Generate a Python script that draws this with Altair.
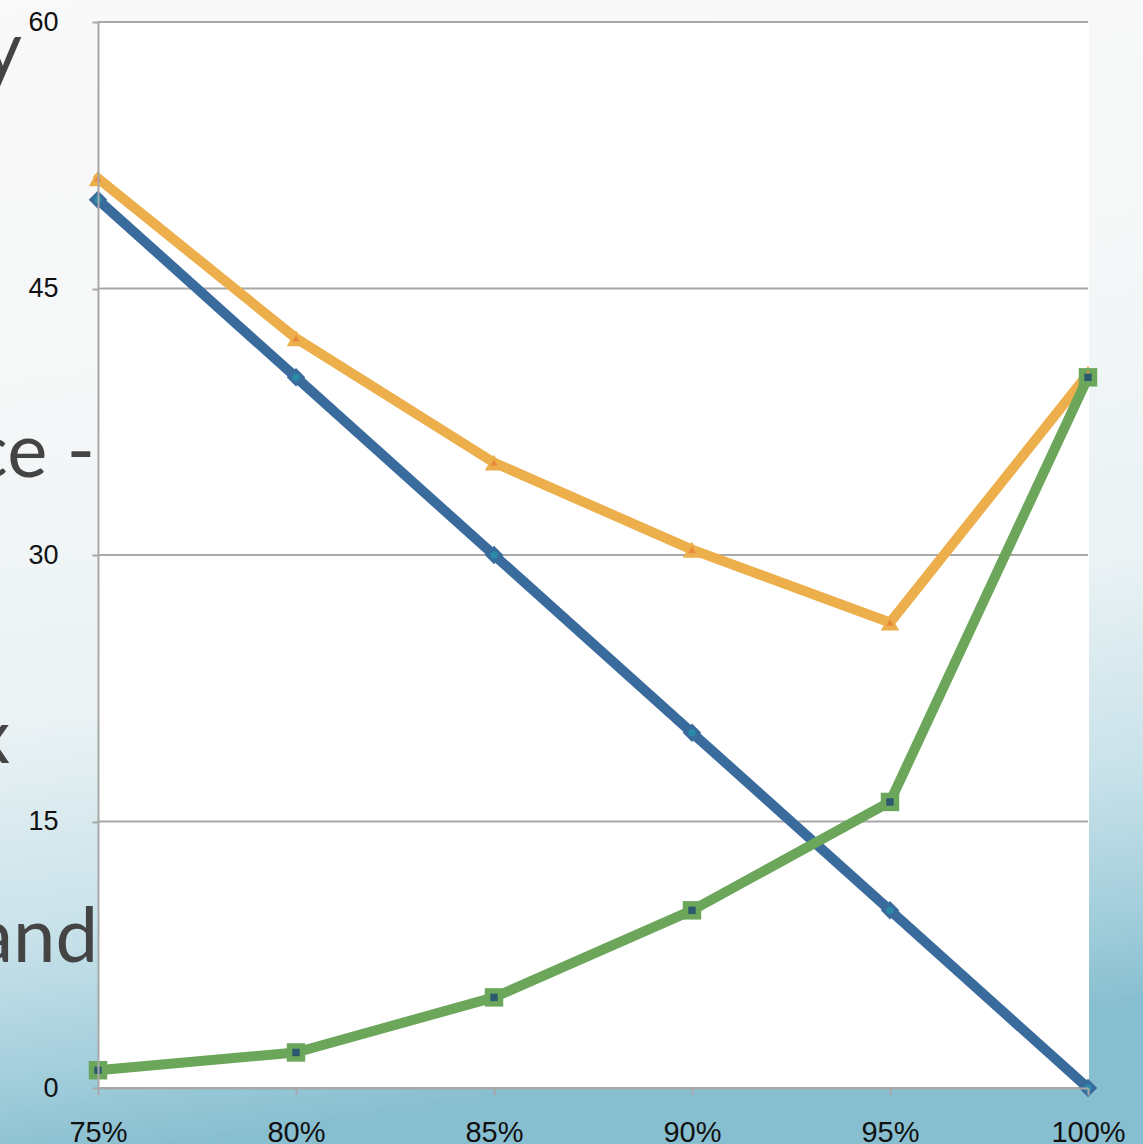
import altair as alt
import pandas as pd

categories = ["75%", "80%", "85%", "90%", "95%", "100%"]
series_names = ["Blue", "Orange", "Green"]
blue_values = [50, 40, 30, 20, 10, 0]
orange_values = [51.2, 42.2, 35.2, 30.3, 26.2, 40.2]
green_values = [1.0, 2.0, 5.1, 10.0, 16.1, 40.0]
y_ticks = [0, 15, 30, 45, 60]
bg_words = ["y", "ce -", "x", "and"]
bg_word_y = [53, 455, 741, 940]
bg_word_x = [-76, -3, -88, 0]

rows = []
for name, vals in zip(series_names, [blue_values, orange_values, green_values]):
    for c, v in zip(categories, vals):
        rows.append({"series": name, "cat": c, "value": v})
df = pd.DataFrame(rows)

W, H = 990, 1066
PL, PT, PR, PB = 98, 22, 55, 56

colors = {"Blue": "#3a6b9d", "Orange": "#ecaf4b", "Green": "#6ba65a"}
shapes = {"Blue": "diamond", "Orange": "triangle-up", "Green": "square"}
inner = {"Blue": "#2a8aa8", "Orange": "#e98a3a", "Green": "#2b5a6e"}

x_enc = alt.X("cat:O", sort=categories, scale=alt.Scale(padding=0, domain=categories),
              axis=alt.Axis(title=None, labelAngle=0, labelFontSize=29, labelColor="#111111",
                            labelFont="Liberation Sans", labelPadding=23, tickSize=7,
                            tickColor="#a8a8a8", tickWidth=2, domainColor="#a8a8a8",
                            domainWidth=2, grid=False, zindex=1, labelBaseline="top"))
y_enc = alt.Y("value:Q", scale=alt.Scale(domain=[0, 60], nice=False, zero=True),
              axis=alt.Axis(title=None, values=y_ticks, labelFontSize=27, labelColor="#111111",
                            labelFont="Liberation Sans", labelPadding=34, tickSize=6,
                            tickColor="#a8a8a8", tickWidth=2, domainColor="#a8a8a8",
                            domainWidth=2, grid=False, zindex=1))

one = pd.DataFrame({"a": [0]})

bg = alt.Chart(one).mark_rect(
    fill=alt.Gradient(
        gradient="linear", x1=0, y1=0, x2=0.15, y2=1,
        stops=[
            alt.GradientStop(color="#f9f9f9", offset=0),
            alt.GradientStop(color="#f5f7f8", offset=0.35),
            alt.GradientStop(color="#eaf2f4", offset=0.62),
            alt.GradientStop(color="#c9e2ea", offset=0.8),
            alt.GradientStop(color="#a4cfdc", offset=0.92),
            alt.GradientStop(color="#88bfd0", offset=1),
        ],
    ),
    clip=False,
).encode(x=alt.value(-PL), x2=alt.value(W + PR), y=alt.value(-PT), y2=alt.value(H + PB))

plot_bg = alt.Chart(one).mark_rect(fill="white").encode(
    x=alt.value(0), x2=alt.value(W + 1), y=alt.value(0), y2=alt.value(H)
)

words = pd.DataFrame({"w": bg_words, "py": bg_word_y, "px": bg_word_x})
word_marks = alt.Chart(words).mark_text(
    align="right", baseline="alphabetic", fontSize=76, font="Lato", color="#444444", clip=False
).encode(text="w:N", x=alt.X("px:Q", scale=None), y=alt.Y("py:Q", scale=None))

grid_df = pd.DataFrame({"value": y_ticks})
grid = alt.Chart(grid_df).mark_rule(color="#a8a8a8", strokeWidth=2).encode(
    y=alt.Y("value:Q", scale=alt.Scale(domain=[0, 60], nice=False)),
    x=alt.value(0), x2=alt.value(W),
)

color_scale = alt.Scale(domain=series_names, range=[colors[s] for s in series_names])

lines = alt.Chart(df).mark_line(strokeWidth=10, strokeJoin="round", strokeCap="round").encode(
    x=x_enc, y=y_enc,
    color=alt.Color("series:N", scale=color_scale, legend=None),
    detail="series:N",
)

outer_pts = alt.Chart(df).mark_point(filled=True, opacity=1, size=340).encode(
    x=x_enc, y=y_enc,
    color=alt.Color("series:N", scale=color_scale, legend=None),
    shape=alt.Shape("series:N", scale=alt.Scale(domain=series_names, range=[shapes[s] for s in series_names]), legend=None),
)

inner_pts = alt.Chart(df).mark_point(filled=True, opacity=1, size=55).encode(
    x=x_enc, y=y_enc,
    color=alt.Color("series:N", scale=alt.Scale(domain=series_names, range=[inner[s] for s in series_names]), legend=None),
    shape=alt.Shape("series:N", scale=alt.Scale(domain=series_names, range=["circle", "triangle-up", "square"]), legend=None),
)

chart = alt.layer(bg, word_marks, plot_bg, grid, lines, outer_pts, inner_pts).resolve_scale(
    color="independent", shape="independent"
).properties(
    width=W, height=H,
    autosize=alt.AutoSizeParams(type="none"),
    padding={"left": PL, "top": PT, "right": PR, "bottom": PB},
    background="#f9f9f9",
).configure_view(strokeWidth=0, fill=None)

chart.save("out.html", embed_options={"renderer": "svg", "actions": False})
